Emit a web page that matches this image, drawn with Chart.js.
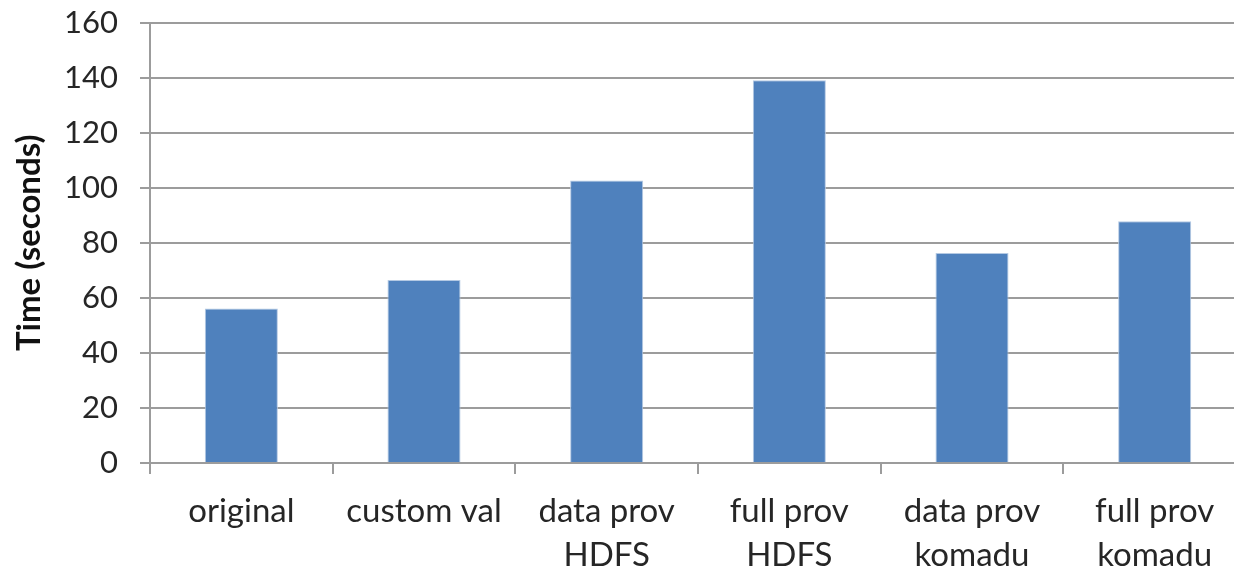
<!DOCTYPE html>
<html>
<head>
<meta charset="utf-8">
<script src="https://cdn.jsdelivr.net/npm/chart.js@4/dist/chart.umd.min.js"></script>
<style>
  html, body { margin: 0; padding: 0; background: #fff; overflow: hidden; }
  #wrap { position: relative; width: 1246px; height: 588px; margin-top: -18px; }
</style>
</head>
<body>
<div id="wrap"><canvas id="c"></canvas></div>
<script>
// Run times of each provenance configuration
const categories = [
  ['original'],
  ['custom val'],
  ['data prov', 'HDFS'],
  ['full prov', 'HDFS'],
  ['data prov', 'komadu'],
  ['full prov', 'komadu']
];
const timeSeconds = [56.1, 66.5, 102.6, 139.1, 76.3, 87.8];
const yTicks = [0, 20, 40, 60, 80, 100, 120, 140, 160];
const yTitle = 'Time (seconds)';

const FONT = "Lato, 'Open Sans', 'Liberation Sans', sans-serif";
const GRID = '#9c9c9c';

new Chart(document.getElementById('c'), {
  type: 'bar',
  data: {
    labels: categories,
    datasets: [{
      data: timeSeconds,
      backgroundColor: '#4f81bd',
      borderColor: '#b4c9e3',
      borderWidth: 1,
      barPercentage: 0.4,
      categoryPercentage: 1.0
    }]
  },
  options: {
    responsive: true,
    maintainAspectRatio: false,
    animation: false,
    layout: { padding: 0 },
    plugins: { legend: { display: false }, tooltip: { enabled: false } },
    scales: {
      x: {
        offset: true,
        grid: {
          offset: true,
          drawOnChartArea: false,
          drawTicks: true,
          tickLength: 11,
          color: GRID,
          lineWidth: 2
        },
        border: { color: GRID, width: 2 },
        ticks: {
          color: '#262626',
          padding: 15,
          maxRotation: 0,
          autoSkip: false,
          font: { family: FONT, size: 33, lineHeight: 1.35 }
        },
        afterFit(scale) { scale.height = 107; }
      },
      y: {
        min: 0,
        max: 160,
        afterBuildTicks(scale) { scale.ticks = yTicks.map(v => ({ value: v })); },
        grid: {
          color: GRID,
          lineWidth: 2,
          drawTicks: true,
          tickLength: 10
        },
        border: { color: GRID, width: 2 },
        ticks: {
          color: '#262626',
          padding: 22,
          font: { family: FONT, size: 31 }
        },
        title: {
          display: true,
          text: yTitle,
          color: '#111',
          padding: { top: 10, bottom: 0 },
          font: { family: FONT, size: 33, weight: 'bold' }
        },
        afterFit(scale) { scale.width = 150; }
      }
    }
  }
});
</script>
</body>
</html>
